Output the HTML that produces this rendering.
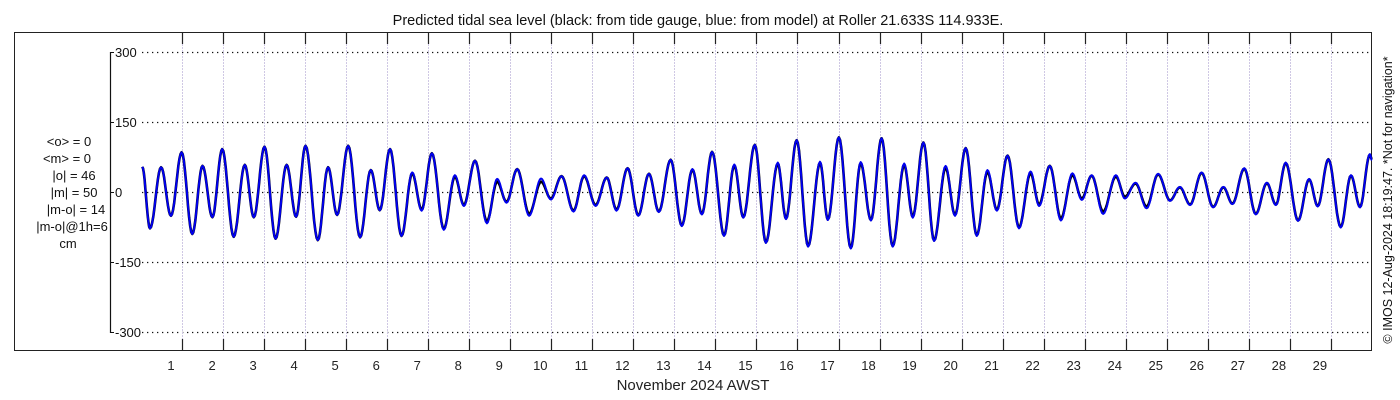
<!DOCTYPE html>
<html><head><meta charset="utf-8">
<style>
body{margin:0;background:#fff;}
svg{display:block;font-family:"Liberation Sans","DejaVu Sans",sans-serif;}
</style></head>
<body>
<svg id="chart" width="1400" height="400" viewBox="0 0 1400 400" xmlns="http://www.w3.org/2000/svg">
<text x="698" y="25" font-size="14.5" text-anchor="middle" fill="#111">Predicted tidal sea level (black: from tide gauge, blue: from model) at Roller 21.633S 114.933E.</text>
<rect x="14.5" y="32.5" width="1357" height="318" fill="none" stroke="#222" stroke-width="1"/>
<g id="grid"></g>
<g id="axes"></g>
<g id="series"></g>
<g font-size="13" text-anchor="middle" fill="#111">
<text x="69" y="146">&lt;o&gt; = 0</text>
<text x="67" y="163">&lt;m&gt; = 0</text>
<text x="74" y="180">|o| = 46</text>
<text x="74" y="197">|m| = 50</text>
<text x="76" y="214">|m-o| = 14</text>
<text x="72" y="231">|m-o|@1h=6</text>
<text x="68" y="248">cm</text>
</g>
<text x="693" y="390" font-size="15" text-anchor="middle" fill="#222">November 2024 AWST</text>
<text transform="translate(1392,200) rotate(-90)" font-size="12.5" text-anchor="middle" fill="#111">© IMOS 12-Aug-2024 18:19:47. *Not for navigation*</text>
</svg>
<script>
// extremes of the series: time in days since start of Nov 1, value in cm
const obsTimes = [0.03,0.22,0.49,0.73,0.99,1.25,1.50,1.74,1.98,2.26,2.53,2.75,3.01,3.28,3.55,3.78,4.01,4.31,4.56,4.78,5.05,5.34,5.60,5.82,6.07,6.35,6.61,6.84,7.09,7.38,7.65,7.87,8.14,8.43,8.68,8.91,9.17,9.46,9.75,9.99,10.25,10.54,10.80,11.08,11.35,11.59,11.86,12.12,12.38,12.62,12.91,13.18,13.44,13.67,13.92,14.21,14.46,14.68,14.96,15.23,15.52,15.72,15.98,16.26,16.55,16.74,17.01,17.30,17.54,17.79,18.05,18.32,18.60,18.81,19.07,19.33,19.61,19.84,20.10,20.37,20.63,20.86,21.12,21.40,21.68,21.89,22.15,22.42,22.70,22.93,23.17,23.45,23.76,23.98,24.24,24.51,24.79,25.08,25.32,25.57,25.85,26.13,26.38,26.60,26.89,27.17,27.44,27.66,27.90,28.20,28.47,28.68,28.94,29.24,29.49,29.71,29.95,30.0];
const obsValues = [54,-78,53,-51,85,-90,56,-54,92,-96,58,-54,97,-100,58,-53,99,-103,53,-49,99,-97,47,-39,92,-94,40,-38,83,-79,33,-28,67,-63,22,-21,49,-47,22,-14,34,-40,34,-28,31,-38,51,-50,39,-42,69,-72,48,-47,86,-93,57,-54,101,-108,61,-57,111,-116,63,-59,117,-120,62,-60,115,-116,58,-53,106,-104,52,-49,94,-93,43,-38,78,-76,40,-27,56,-57,36,-14,35,-42,33,-10,18,-31,38,-18,10,-27,41,-32,10,-25,50,-47,19,-27,62,-61,27,-30,70,-75,35,-32,80,70];
const modTimes = obsTimes;
const modValues = [54,-78,53,-51,85,-90,56,-54,92,-96,58,-54,97,-100,58,-53,99,-103,53,-49,99,-97,47,-39,92,-94,42,-40,83,-81,36,-30,67,-67,28,-23,49,-51,29,-16,34,-42,36,-30,31,-40,51,-51,39,-43,69,-73,49,-48,86,-94,59,-55,101,-109,63,-58,111,-117,65,-60,117,-121,64,-61,115,-117,61,-55,106,-105,56,-51,94,-94,47,-40,78,-78,44,-30,56,-61,40,-17,36,-47,36,-14,20,-35,39,-19,11,-28,42,-33,11,-26,51,-48,20,-28,63,-62,28,-31,70,-76,36,-33,81,68];
const yTicks = [300,150,0,-150,-300];
const dayLabels = [1,2,3,4,5,6,7,8,9,10,11,12,13,14,15,16,17,18,19,20,21,22,23,24,25,26,27,28,29];

const NS="http://www.w3.org/2000/svg";
const x = d => 141 + d*41.03;
const y = v => 192 - v*0.4667;
function mk(tag,attrs,parent){const e=document.createElementNS(NS,tag);for(const k in attrs)e.setAttribute(k,attrs[k]);parent.appendChild(e);return e;}
const grid=document.getElementById('grid'), axes=document.getElementById('axes'), series=document.getElementById('series');

yTicks.forEach(v=>{
  const l=mk('line',{x1:142,x2:1371,y1:y(v)+0.5,y2:y(v)+0.5,stroke:'#111','stroke-width':1.2,'stroke-dasharray':'1.3 3.7'},grid);
  
  
  const t=mk('line',{x1:110,x2:114,y1:y(v)+0.5,y2:y(v)+0.5,stroke:'#111','stroke-width':1},axes);
  
  
  const tx=mk('text',{x:115,y:y(v)+5,'font-size':13,fill:'#111'},axes);
  
  
  tx.textContent=String(v);
});
const ax=mk('line',{x1:110.5,x2:110.5,y1:y(300),y2:y(-300)+1,stroke:'#111','stroke-width':1.2},axes);



dayLabels.forEach(d=>{
  const px=Math.round(x(d))+0.5;
  const g=mk('line',{x1:px,x2:px,y1:44,y2:340,stroke:'#cfc8e4','stroke-width':1,'stroke-dasharray':'2 1'},grid);
  
  
  const t1=mk('line',{x1:px,x2:px,y1:32,y2:44,stroke:'#222','stroke-width':1.2},axes);
  
  
  const t2=mk('line',{x1:px,x2:px,y1:339,y2:351,stroke:'#222','stroke-width':1.2},axes);
  
  
  const tx=mk('text',{x:x(d)-11,y:370,'font-size':13,'text-anchor':'middle',fill:'#222'},axes);
  
  
  tx.textContent=String(d);
});

function pathFrom(ts,vs){
  let d='M'+x(ts[0]).toFixed(1)+','+y(vs[0]).toFixed(1);
  for(let i=0;i<ts.length-1;i++){
    const n=10;
    for(let k=1;k<=n;k++){
      const f=k/n, w=(1-Math.cos(Math.PI*f))/2;
      const t=ts[i]+(ts[i+1]-ts[i])*f, v=vs[i]+(vs[i+1]-vs[i])*w;
      d+=' L'+x(t).toFixed(1)+','+y(v).toFixed(1);
    }
  }
  return d;
}
const po=mk('path',{d:pathFrom(obsTimes,obsValues),fill:'none',stroke:'#000','stroke-width':2.6,'stroke-linejoin':'round'},series);


const pm=mk('path',{d:pathFrom(modTimes,modValues),fill:'none',stroke:'#0000ee','stroke-width':2,'stroke-linejoin':'round'},series);


</script>
</body></html>
